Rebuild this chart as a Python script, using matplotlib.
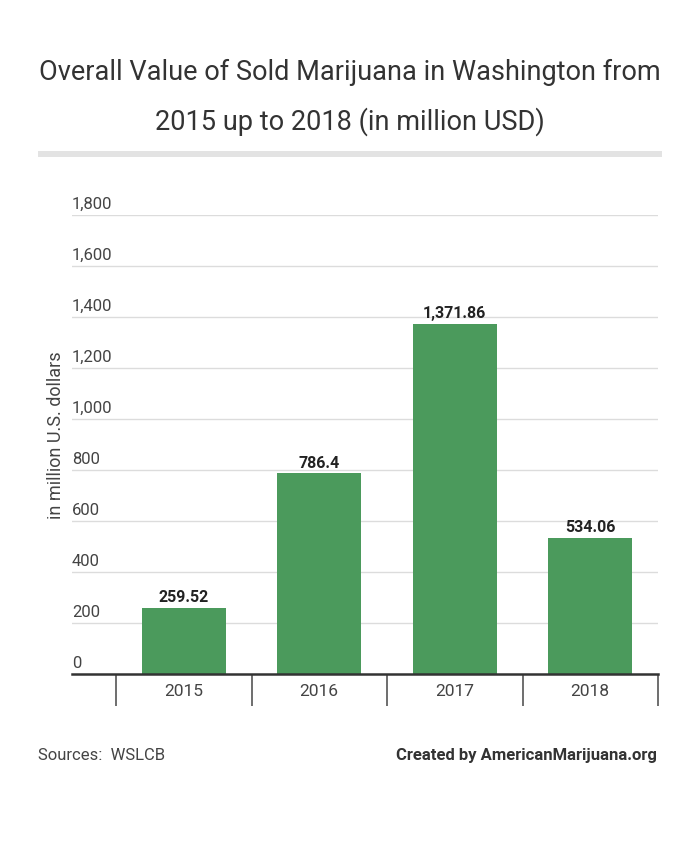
import matplotlib
matplotlib.use("Agg")
import matplotlib.pyplot as plt
from matplotlib.transforms import blended_transform_factory, offset_copy

plt.rcParams['font.family'] = ['Roboto', 'DejaVu Sans']

years = ["2015", "2016", "2017", "2018"]
values = [259.52, 786.4, 1371.86, 534.06]
value_labels = ["259.52", "786.4", "1,371.86", "534.06"]
yticks = [0, 200, 400, 600, 800, 1000, 1200, 1400, 1600, 1800]
ytick_labels = ["0", "200", "400", "600", "800", "1,000", "1,200", "1,400", "1,600", "1,800"]

W, H = 700, 846
fig = plt.figure(figsize=(W / 100, H / 100), dpi=100)

# Title
fig.text(350 / W, 1 - 72 / H, "Overall Value of Sold Marijuana in Washington from",
         ha='center', va='center', fontsize=19.5, color='#333333')
fig.text(350 / W, 1 - 122 / H, "2015 up to 2018 (in million USD)",
         ha='center', va='center', fontsize=19.5, color='#333333')
# gray bar under title
fig.add_artist(plt.Rectangle((38 / W, 1 - 157 / H), (662 - 38) / W, 6 / H,
                             transform=fig.transFigure, color='#e3e3e3', lw=0))

left, right = 72 / W, 658 / W
bottom, top = 1 - 674 / H, 1 - 215 / H
ax = fig.add_axes([left, bottom, right - left, top - bottom])

x = list(range(len(years)))
ax.bar(x, values, width=0.62, color='#4b9a5c', zorder=3)

# x limits: category area from -0.5 to 3.5 maps to pixels 116..658
unit = (658 - 116) / 4
xmin = -0.5 - (116 - 72) / unit
ax.set_xlim(xmin, 3.5)
ax.set_ylim(0, 1800)

for s in ['top', 'right', 'left']:
    ax.spines[s].set_visible(False)
ax.spines['bottom'].set_color('#333333')
ax.spines['bottom'].set_linewidth(1.8)
ax.spines['bottom'].set_zorder(4)

# gridlines
for t in yticks[1:]:
    ax.axhline(t, color='#dcdcdc', lw=1, zorder=1)

ax.set_yticks([])
trans = offset_copy(blended_transform_factory(ax.transAxes, ax.transData), fig=fig, x=0, y=2, units='points')
for t, lab in zip(yticks, ytick_labels):
    ax.text(0.0, t, lab, transform=trans, ha='left', va='bottom', fontsize=12, color='#444444')

ax.set_xticks(x)
ax.set_xticklabels(years, fontsize=12.5, color='#444444')
ax.tick_params(axis='x', which='major', length=0, pad=7)
ax.set_xticks([i - 0.5 for i in range(len(years) + 1)], minor=True)
ax.tick_params(axis='x', which='minor', length=23, width=1.2, color='#555555', direction='out')

# value labels
vtrans = offset_copy(ax.transData, fig=fig, x=0, y=2, units='points')
for xi, v, lab in zip(x, values, value_labels):
    ax.text(xi, v, lab, transform=vtrans, ha='center', va='bottom',
            fontsize=11.5, fontweight='bold', color='#222222', zorder=5)

fig.text(56 / W, 1 - 435 / H, "in million U.S. dollars", rotation=90,
         ha='center', va='center', fontsize=13, color='#444444')

fig.text(38 / W, 1 - 755 / H, "Sources:  WSLCB", ha='left', va='center',
         fontsize=12, color='#444444')
fig.text(657 / W, 1 - 755 / H, "Created by AmericanMarijuana.org", ha='right', va='center',
         fontsize=12, fontweight='bold', color='#333333')

fig.savefig("out.png", dpi=100, facecolor='white')
